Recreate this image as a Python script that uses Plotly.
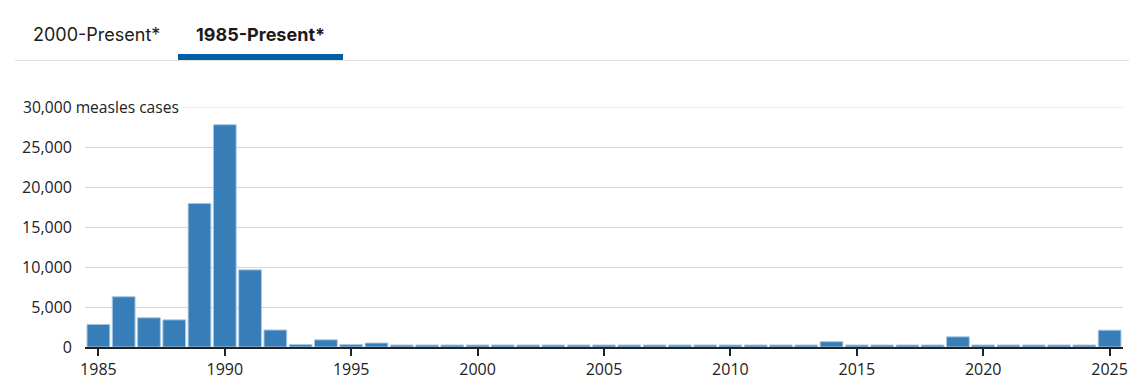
import plotly.graph_objects as go

years = list(range(1985, 2026))
cases = [
    2822, 6282, 3655, 3396, 17950, 27786, 9643, 2126, 300, 900,
    300, 500, 250, 250, 250, 250, 250, 250, 250, 250,
    250, 250, 250, 250, 250, 250, 250, 250, 250, 667,
    250, 250, 250, 250, 1274, 250, 250, 250, 250, 250,
    2100,
]
y_tickvals = [0, 5000, 10000, 15000, 20000, 25000, 30000]
y_ticktext = ["0", "5,000", "10,000", "15,000", "20,000", "25,000", ""]
x_tickvals = [1985, 1990, 1995, 2000, 2005, 2010, 2015, 2020, 2025]
y_title = "30,000 measles cases"
tabs = ["2000-Present*", "1985-Present*"]

W, H = 1137, 386
L, R, T, B = 85, 14, 107, 39
PW, PH = W - L - R, H - T - B


def px(x):
    return (x - L) / PW


def py(y):
    return (H - B - y) / PH


fig = go.Figure(
    go.Bar(
        x=years,
        y=cases,
        marker=dict(color="#377eb8", line=dict(color="#a9c8e4", width=1)),
        hoverinfo="x+y",
    )
)

fig.update_layout(
    width=W,
    height=H,
    margin=dict(l=L, r=R, t=T, b=B, pad=0),
    plot_bgcolor="white",
    paper_bgcolor="white",
    bargap=0.1,
    showlegend=False,
    font=dict(family="Open Sans", size=16, color="#222"),
    xaxis=dict(
        range=[1984.47, 2025.53],
        tickvals=x_tickvals,
        ticks="outside",
        ticklen=7,
        tickwidth=1.5,
        tickcolor="#222",
        showline=True,
        linecolor="#222",
        linewidth=1.5,
        showgrid=False,
        zeroline=False,
        automargin=False,
        tickfont=dict(family="Open Sans", size=16, color="#222"),
    ),
    yaxis=dict(
        range=[0, 30000],
        tickvals=y_tickvals,
        ticktext=y_ticktext,
        showgrid=True,
        gridcolor="#d6d6d6",
        gridwidth=1,
        zeroline=False,
        showline=False,
        ticks="",
        ticklabelstandoff=12,
        automargin=False,
        tickfont=dict(family="Open Sans", size=16, color="#222"),
    ),
    shapes=[
        dict(type="line", xref="paper", yref="y",
             x0=0, x1=1, y0=y_tickvals[-1], y1=y_tickvals[-1],
             line=dict(color="#d6d6d6", width=1), layer="below"),
        dict(type="line", xref="paper", yref="paper",
             x0=px(15), x1=px(1129), y0=py(60.5), y1=py(60.5),
             line=dict(color="#e0e0e0", width=1)),
        dict(type="rect", xref="paper", yref="paper",
             x0=px(178), x1=px(343), y0=py(60), y1=py(54),
             fillcolor="#005ea2", line=dict(width=0)),
    ],
    annotations=[
        dict(text=y_title, xref="paper", yref="paper", x=px(19), y=py(107),
             xanchor="left", yanchor="middle", showarrow=False,
             bgcolor="white", borderpad=3,
             font=dict(family="Open Sans", size=15.6, color="#222")),
        dict(text=tabs[0], xref="paper", yref="paper", x=px(96), y=py(34),
             xanchor="center", yanchor="middle", showarrow=False,
             font=dict(family="Inter", size=18, color="#1b1b1b")),
        dict(text="<b>" + tabs[1] + "</b>", xref="paper", yref="paper", x=px(260), y=py(34),
             xanchor="center", yanchor="middle", showarrow=False,
             font=dict(family="Inter", size=18, color="#1b1b1b")),
    ],
)

fig.write_html("out.html")
